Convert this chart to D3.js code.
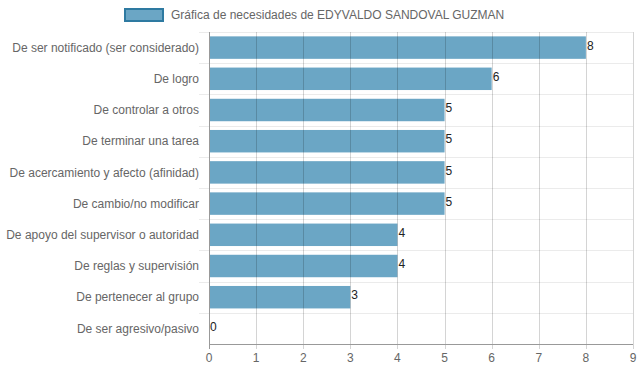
<!DOCTYPE html>
<html><head><meta charset="utf-8">
<script src="https://cdn.jsdelivr.net/npm/d3@7"></script>
<style>body{margin:0;background:#fff}svg{display:block;font-family:"Liberation Sans",Arial,sans-serif}</style>
</head><body><svg id="c" width="639" height="372"></svg>
<script>
const categories = ["De ser notificado (ser considerado)","De logro","De controlar a otros","De terminar una tarea","De acercamiento y afecto (afinidad)","De cambio/no modificar","De apoyo del supervisor o autoridad","De reglas y supervisión","De pertenecer al grupo","De ser agresivo/pasivo"];
const values = [8,6,5,5,5,5,4,4,3,0];
const xTicks = [0,1,2,3,4,5,6,7,8,9];
const seriesName = "Gráfica de necesidades de EDYVALDO SANDOVAL GUZMAN";

const svg = d3.select("#c");
const pLeft = 209, pRight = 633, pTop = 32, pBottom = 344;
const x = d3.scaleLinear().domain([0,9]).range([pLeft,pRight]);
const y = d3.scaleBand().domain(categories).range([pTop,pBottom]).paddingInner(0).paddingOuter(0);
const barH = y.bandwidth()*0.72;

// horizontal grid lines (between categories)
const hLines = categories.map(c => y(c));
svg.append("g").selectAll("line").data(hLines).join("line")
  .attr("x1", pLeft-10).attr("x2", pRight).attr("y1", d=>Math.round(d)+0.5).attr("y2", d=>Math.round(d)+0.5)
  .attr("stroke","#ebebeb").attr("stroke-width",1);

// bars
svg.append("g").selectAll("rect").data(values).join("rect")
  .attr("x", x(0)).attr("y", (d,i)=> y(categories[i]) + (y.bandwidth()-barH)/2)
  .attr("width", d=> x(d)-x(0)).attr("height", barH)
  .attr("fill","#6ba6c5");

// vertical grid lines
svg.append("g").selectAll("line").data(xTicks).join("line")
  .attr("x1", d=>Math.round(x(d))+0.5).attr("x2", d=>Math.round(x(d))+0.5)
  .attr("y1", pTop).attr("y2", pBottom+5)
  .attr("stroke", d=> d===0 ? "#999" : "rgba(0,0,0,0.17)").attr("stroke-width",1);

// x axis line
svg.append("line").attr("x1", pLeft).attr("x2", pRight).attr("y1", pBottom+0.5).attr("y2", pBottom+0.5)
  .attr("stroke","#999");

// x tick labels
svg.append("g").selectAll("text").data(xTicks).join("text")
  .attr("x", d=>x(d)).attr("y", 358).attr("dy","0.35em").attr("text-anchor","middle")
  .attr("font-size",12).attr("fill","#666").text(d=>d);

// y labels
svg.append("g").selectAll("text").data(categories).join("text")
  .attr("x", 199).attr("y", d=> y(d)+y.bandwidth()/2).attr("dy","0.35em").attr("text-anchor","end")
  .attr("font-size",12).attr("fill","#666").text(d=>d);

// value labels
svg.append("g").selectAll("text").data(values).join("text")
  .attr("x", d=> x(d)+1).attr("y", (d,i)=> y(categories[i])+y.bandwidth()/2 - 2).attr("dy","0.35em")
  .attr("font-size",12).attr("fill","#222").text(d=>d);

// legend
svg.append("rect").attr("x",125).attr("y",9).attr("width",38).attr("height",12)
  .attr("fill","#6ba6c5").attr("stroke","#2e7aa1").attr("stroke-width",2);
svg.append("text").attr("x",171).attr("y",15).attr("dy","0.35em").attr("font-size",12).attr("fill","#666").text(seriesName);
</script></body></html>
